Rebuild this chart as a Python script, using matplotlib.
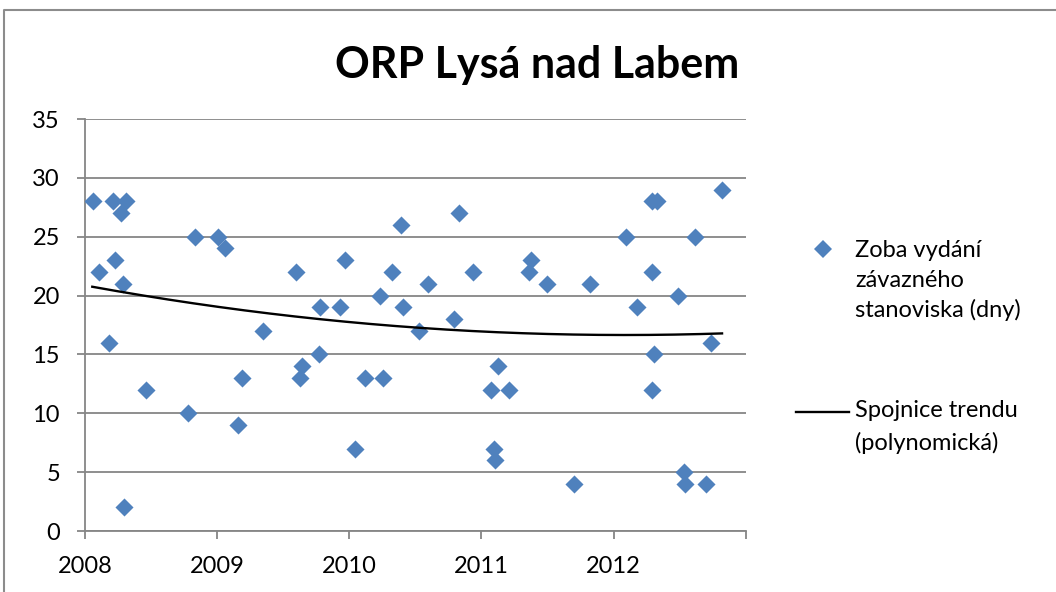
import numpy as np
import matplotlib
matplotlib.use("Agg")
import matplotlib.pyplot as plt
from matplotlib.lines import Line2D

plt.rcParams['font.family'] = ['Lato', 'DejaVu Sans']

# date of issue (decimal year) and time to issue the binding opinion (days)
dates = [2008.058, 2008.108, 2008.184, 2008.209, 2008.227, 2008.270, 2008.285,
         2008.307, 2008.292, 2008.458, 2008.778, 2008.836, 2009.005, 2009.063,
         2009.156, 2009.188, 2009.350, 2009.594, 2009.626, 2009.639, 2009.770,
         2009.780, 2009.930, 2009.964, 2010.047, 2010.122, 2010.233, 2010.258,
         2010.324, 2010.389, 2010.409, 2010.530, 2010.596, 2010.795, 2010.830,
         2010.938, 2011.076, 2011.094, 2011.099, 2011.122, 2011.212, 2011.363,
         2011.378, 2011.495, 2011.703, 2011.823, 2012.094, 2012.177, 2012.288,
         2012.288, 2012.307, 2012.290, 2012.328, 2012.489, 2012.534, 2012.539,
         2012.613, 2012.703, 2012.741, 2012.821]
days = [28, 22, 16, 28, 23, 27, 21,
        28, 2, 12, 10, 25, 25, 24,
        9, 13, 17, 22, 13, 14, 15,
        19, 19, 23, 7, 13, 20, 13,
        22, 26, 19, 17, 21, 18, 27,
        22, 12, 7, 6, 14, 12, 22,
        23, 21, 4, 21, 25, 19, 22,
        12, 15, 28, 28, 20, 5, 4,
        25, 4, 16, 29]

# trend line
trend_dates = [2008.055, 2008.831, 2009.662, 2010.455, 2011.286, 2012.041, 2012.821]
trend_days = [20.70, 19.40, 18.16, 17.27, 16.80, 16.65, 16.80]

year_ticks = [2008, 2009, 2010, 2011, 2012]
y_ticks = [0, 5, 10, 15, 20, 25, 30, 35]

title = "ORP Lysá nad Labem"
label_points = ["Zoba vydání", "závazného", "stanoviska (dny)"]
label_trend = ["Spojnice trendu", "(polynomická)"]

blue = "#4F81BD"
grid_gray = "#868686"

x = np.array(dates)
y = np.array(days, dtype=float)

# smooth polynomial through the trend readings
coef = np.polyfit(np.array(trend_dates) - 2008, trend_days, 2)
xt = np.linspace(trend_dates[0], trend_dates[-1], 200)
yt = np.polyval(coef, xt - 2008)

W, H = 1056, 592
fig = plt.figure(figsize=(W / 100, H / 100), dpi=100)
ax = fig.add_axes([85 / W, 1 - 531 / H, (745.7 - 85) / W, (531 - 119) / H])

ax.scatter(x, y, marker='D', s=9.2 ** 2, color=blue, linewidths=0, zorder=3)
ax.plot(xt, yt, color='black', lw=1.7, zorder=4)

ax.set_xlim(2008, 2013)
ax.set_ylim(0, 35)
ax.set_xticks(year_ticks + [2013])
ax.set_xticklabels([str(v) for v in year_ticks] + [""])
ax.set_yticks(y_ticks)
ax.tick_params(axis='both', labelsize=17, colors=grid_gray, labelcolor='black',
               length=6, width=1.3, direction='out', pad=12)

ax.grid(axis='y', color=grid_gray, lw=1.3)
ax.set_axisbelow(True)
for side in ['top', 'right']:
    ax.spines[side].set_visible(False)
for side in ['left', 'bottom']:
    ax.spines[side].set_color(grid_gray)
    ax.spines[side].set_linewidth(1.3)

fig.text(537 / W, 1 - 78 / H, title, ha='center', va='baseline',
         fontsize=31, fontweight='bold')

# legend drawn by hand to keep the Excel look
fig.add_artist(Line2D([823 / W], [1 - 249 / H], marker='D', ms=8.8,
                      color=blue, mew=0, transform=fig.transFigure))
for txt, base in zip(label_points, [257, 287, 317]):
    fig.text(855 / W, 1 - base / H, txt, ha='left', va='baseline', fontsize=17)
fig.add_artist(Line2D([796 / W, 849 / W], [1 - 412 / H, 1 - 412 / H],
                      color='black', lw=1.7, transform=fig.transFigure))
for txt, base in zip(label_trend, [417, 450]):
    fig.text(855 / W, 1 - base / H, txt, ha='left', va='baseline', fontsize=17)

# chart frame
fig.add_artist(Line2D([4 / W, 4 / W, 1], [0, 1 - 10 / H, 1 - 10 / H],
                      color='#8c8c8c', lw=1.5, transform=fig.transFigure))

fig.savefig("out.png", dpi=100)
